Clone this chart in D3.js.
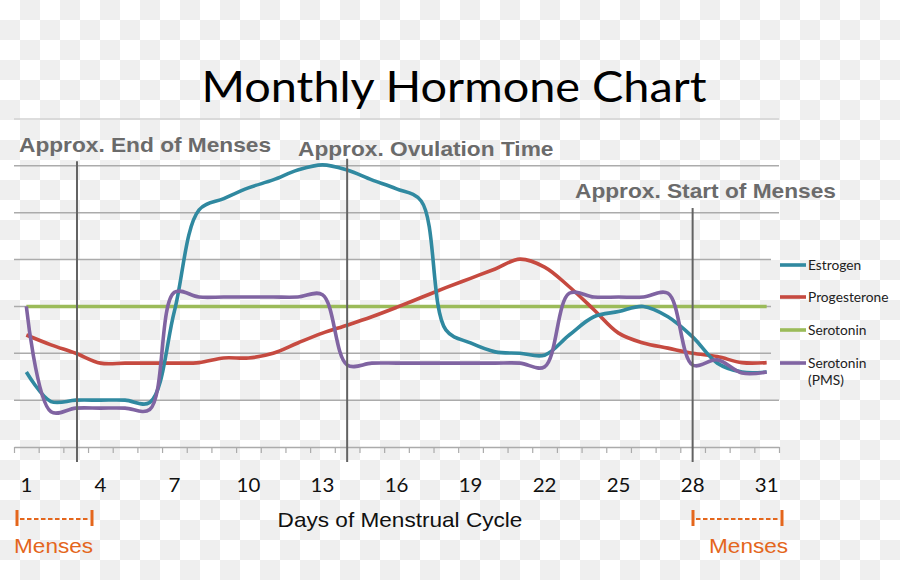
<!DOCTYPE html>
<html>
<head>
<meta charset="utf-8">
<script src="https://cdn.jsdelivr.net/npm/d3@7"></script>
<style>
  body { margin: 0; background: #fff; }
  svg { display: block; }
</style>
</head>
<body>
<div class="chart"></div>
<script>
// data (days 1..31)
var days = d3.range(1, 32)
var tickDays = [1, 4, 7, 10, 13, 16, 19, 22, 25, 28, 31]
var seriesNames = ["Estrogen", "Progesterone", "Serotonin", "Serotonin (PMS)"]
var seriesColors = ["#3089a0", "#c64a40", "#9bbb59", "#8064a2"]

var estrogen = [1.6, 0.97, 1.0, 1.0, 1.0, 0.95, 2.9, 5.06, 5.3, 5.53, 5.7, 5.91, 6.02, 5.91, 5.7, 5.51,
  5.25, 2.5, 2.22, 2.03, 2.0, 1.96, 2.39, 2.78, 2.89, 3.0, 2.78, 2.35, 1.79, 1.6, 1.6]
var progesterone = [2.39, 2.18, 2.0, 1.79, 1.79, 1.79, 1.79, 1.8, 1.9, 1.9, 2.0, 2.22, 2.43, 2.6, 2.78, 2.98,
  3.19, 3.4, 3.6, 3.8, 4.01, 3.84, 3.42, 2.93, 2.43, 2.22, 2.11, 2.0, 1.93, 1.8, 1.8]
var serotonin = days.map(function() { return 3.0 })
var serotoninPMS = [3.0, 0.75, 0.83, 0.83, 0.83, 0.8, 3.3, 3.2, 3.2, 3.2, 3.2, 3.2, 3.25, 1.75, 1.79, 1.79,
  1.79, 1.79, 1.79, 1.79, 1.79, 1.71, 3.28, 3.2, 3.2, 3.2, 3.28, 1.75, 1.86, 1.58, 1.6]

var markers = [
  { day: 3, label: "Approx. End of Menses", top: 6.1 },
  { day: 14, label: "Approx. Ovulation Time", top: 6.15 },
  { day: 28, label: "Approx. Start of Menses", top: 5.1 }
]

// set the dimensions
var width = 900,
    height = 580,
    plotLeft = 14,
    plotRight = 779,
    plotBottom = 447,
    plotTop = 119

var svg = d3.select(".chart")
  .append("svg")
    .attr("width", width)
    .attr("height", height)

// transparent-png style checker background
var defs = svg.append("defs")
var pat = defs.append("pattern")
    .attr("id", "checker")
    .attr("patternUnits", "userSpaceOnUse")
    .attr("width", 40)
    .attr("height", 40)
pat.append("rect").attr("width", 40).attr("height", 40).attr("fill", "#ffffff")
pat.append("rect").attr("x", 20).attr("y", 0).attr("width", 20).attr("height", 20).attr("fill", "#efefef")
pat.append("rect").attr("x", 0).attr("y", 20).attr("width", 20).attr("height", 20).attr("fill", "#efefef")

svg.append("rect")
    .attr("width", width)
    .attr("height", height)
    .attr("fill", "url(#checker)")

// scales
var x = d3.scaleLinear().domain([0.5, 31.5]).range([plotLeft, plotRight])
var y = d3.scaleLinear().domain([0, 7]).range([plotBottom, plotTop])

// text helper: the picture's lettering is a bit stretched sideways
function label(sel, px, py, sx, anchor) {
  return sel.append("text")
      .attr("transform", "translate(" + px + "," + py + ") scale(" + sx + ",1)")
      .attr("text-anchor", anchor || "start")
}

// gridlines
svg.append("g")
    .selectAll("line")
    .data(d3.range(1, 8))
    .enter()
    .append("line")
    .attr("x1", plotLeft)
    .attr("x2", plotRight)
    .attr("y1", function(d) { return y(d) })
    .attr("y2", function(d) { return y(d) })
    .attr("stroke", function(d) { return d == 7 ? "#d2d2d2" : "#ababab" })
    .attr("stroke-width", 1.5)

// x axis: ticks at category boundaries
var xAxis = svg.append("g")
    .attr("transform", "translate(0," + plotBottom + ")")
    .call(d3.axisBottom(x)
      .tickValues(d3.range(0.5, 32, 1))
      .tickSize(6)
      .tickSizeOuter(0)
      .tickFormat(""))
xAxis.select(".domain").attr("stroke", "#ababab").attr("stroke-width", 1.5)
xAxis.selectAll(".tick line").attr("stroke", "#ababab").attr("stroke-width", 1.2)

tickDays.forEach(function(d) {
  label(svg, x(d), 492, 1.05, "middle")
    .style("font-family", "Lato, 'Open Sans', sans-serif")
    .style("font-size", "19.5px")
    .style("fill", "#111")
    .text(d)
})

// legend area hides the gridlines behind it
svg.append("rect")
    .attr("x", 771)
    .attr("y", 235)
    .attr("width", 129)
    .attr("height", 150)
    .attr("fill", "url(#checker)")

// lines
var line = d3.line()
    .x(function(d, i) { return x(days[i]) })
    .y(function(d) { return y(d) })
    .curve(d3.curveCatmullRom.alpha(0.5))

var allSeries = [serotonin, progesterone, estrogen, serotoninPMS]
var order = [2, 1, 0, 3]
svg.append("g")
  .selectAll("path")
  .data(allSeries)
  .enter()
  .append("path")
    .attr("d", line)
    .attr("fill", "none")
    .attr("stroke", function(d, i) { return seriesColors[order[i]] })
    .attr("stroke-width", 3.6)
    .attr("stroke-linejoin", "round")

// vertical marker lines + labels
svg.append("g")
  .selectAll("line")
  .data(markers)
  .enter()
  .append("line")
    .attr("x1", function(d) { return x(d.day) + (d.day == 3 ? 1.3 : 0) })
    .attr("x2", function(d) { return x(d.day) + (d.day == 3 ? 1.3 : 0) })
    .attr("y1", function(d) { return y(d.top) })
    .attr("y2", plotBottom + 15)
    .attr("stroke", "#636363")
    .attr("stroke-width", 2)

var labelPos = [[19, 152], [298, 156], [575, 198]]
markers.forEach(function(m, i) {
  label(svg, labelPos[i][0], labelPos[i][1], 1.135)
    .style("font-family", "'Liberation Sans', Arial, sans-serif")
    .style("font-weight", "bold")
    .style("font-size", "20px")
    .style("fill", "#6b6b6b")
    .text(m.label)
})

// legend
var legend = svg.append("g")
var legendY = [265, 297, 330, 363]
seriesNames.forEach(function(name, i) {
  legend.append("line")
      .attr("x1", 780)
      .attr("x2", 806)
      .attr("y1", legendY[i])
      .attr("y2", legendY[i])
      .attr("stroke", seriesColors[i])
      .attr("stroke-width", 3.6)
  var parts = name == "Serotonin (PMS)" ? ["Serotonin", "(PMS)"] : [name]
  parts.forEach(function(p, j) {
    label(legend, 808, legendY[i] + 4.5 + j * 17, 1.06)
      .style("font-family", "Lato, 'Open Sans', sans-serif")
      .style("font-size", "13px")
      .style("fill", "#222")
      .text(p)
  })
})

// title
label(svg, 454, 102, 1.115, "middle")
    .style("font-family", "Lato, 'Open Sans', sans-serif")
    .style("font-size", "42px")
    .style("fill", "#000")
    .text("Monthly Hormone Chart")

// x axis title
label(svg, 400, 527, 1.13, "middle")
    .style("font-family", "'Liberation Sans', Arial, sans-serif")
    .style("font-size", "20px")
    .style("fill", "#111")
    .text("Days of Menstrual Cycle")

// menses brackets
var orange = "#e4661c"
var brackets = [{ x1: 17, x2: 92, tx: 14 }, { x1: 693, x2: 782, tx: 709 }]
brackets.forEach(function(b) {
  var g = svg.append("g")
  g.append("line").attr("x1", b.x1).attr("x2", b.x1).attr("y1", 510).attr("y2", 526)
      .attr("stroke", orange).attr("stroke-width", 3)
  g.append("line").attr("x1", b.x2).attr("x2", b.x2).attr("y1", 510).attr("y2", 526)
      .attr("stroke", orange).attr("stroke-width", 3)
  g.append("line").attr("x1", b.x1 + 3).attr("x2", b.x2 - 2).attr("y1", 519).attr("y2", 519)
      .attr("stroke", orange).attr("stroke-width", 2.2).attr("stroke-dasharray", "4.5,2.5")
  label(g, b.tx, 553, 1.13)
      .style("font-family", "'Liberation Sans', Arial, sans-serif")
      .style("font-size", "20px")
      .style("fill", orange)
      .text("Menses")
})
</script>
</body>
</html>
